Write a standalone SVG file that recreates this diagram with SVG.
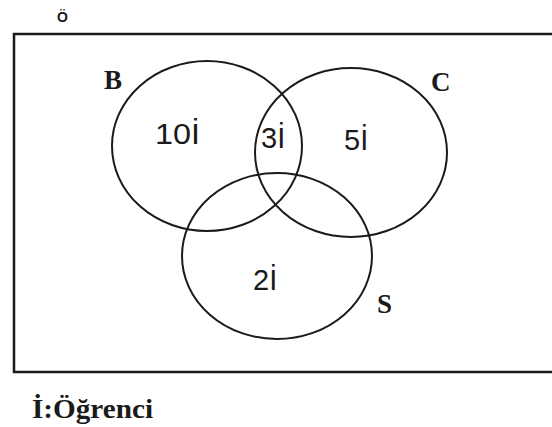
<svg xmlns="http://www.w3.org/2000/svg" width="552" height="427" viewBox="0 0 552 427">
<style>
.set{fill:none;stroke:#1a1a1a;stroke-width:2}
.frame{fill:none;stroke:#1a1a1a;stroke-width:2.5}
.lbl{font-family:"Liberation Serif",serif;font-weight:bold;fill:#1a1a1a}
.num{font-family:"Liberation Sans",sans-serif;fill:#1a1a1a}
</style>
<rect width="552" height="427" fill="#fff"/>
<g id="universe">
<path class="frame" d="M560,34 L14,34 L14,372 L560,372"/>
<text class="num" x="57" y="22" font-size="14" font-weight="bold">Ö</text>
</g>
<g id="setB">
<ellipse class="set" cx="207" cy="146" rx="95" ry="85"/>
<text class="lbl" x="104" y="89" font-size="27">B</text>
<text class="num" x="155" y="144" font-size="29" textLength="45" lengthAdjust="spacingAndGlyphs">10İ</text>
</g>
<g id="setC">
<ellipse class="set" cx="351" cy="152.5" rx="96" ry="84.5"/>
<text class="lbl" x="431" y="91" font-size="27">C</text>
<text class="num" x="344" y="150" font-size="29">5İ</text>
</g>
<g id="setS">
<ellipse class="set" cx="277" cy="256" rx="95" ry="83"/>
<text class="lbl" x="377" y="313" font-size="27">S</text>
<text class="num" x="253" y="290" font-size="29">2İ</text>
</g>
<g id="BC">
<text class="num" x="261" y="148" font-size="29">3İ</text>
</g>
<g id="legend">
<text class="lbl" x="32" y="418" font-size="27" textLength="121" lengthAdjust="spacingAndGlyphs">İ:Öğrenci</text>
</g>
</svg>
